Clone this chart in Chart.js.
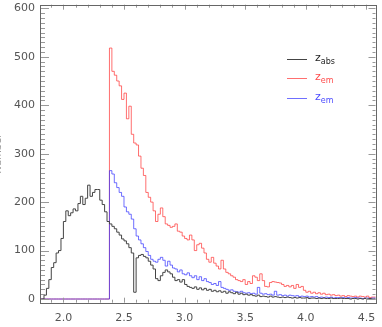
<!DOCTYPE html>
<html>
<head>
<meta charset="utf-8">
<script src="https://cdn.jsdelivr.net/npm/chart.js@4.4.1/dist/chart.umd.min.js"></script>
<style>
    html, body { margin: 0; padding: 0; background: #fff; overflow: hidden; }
    #wrap { width: 382px; height: 327px; overflow: hidden; position: relative; }
    #c { position: absolute; left: -8px; top: 0; }
</style>
</head>
<body>
<div id="wrap"><canvas id="c" width="390" height="327"></canvas></div>
<script>
// --- histogram data (bins of 0.02 in z, first bin starts at 1.80) ---
const binStart = 1.80;
const binWidth = 0.02;
const xTicks = [2.0, 2.5, 3.0, 3.5, 4.0, 4.5];
const yTicks = [0, 100, 200, 300, 400, 500, 600];

const absCounts = [
    0, 0, 0, 8, 22, 40, 65, 75, 95, 100,
    125, 160, 182, 172, 178, 186, 182, 197, 212, 195,
    208, 235, 212, 220, 226, 226, 204, 195, 180, 160,
    155, 150, 145, 138, 132, 124, 120, 114, 106, 95,
    14, 85, 90, 92, 88, 85, 78, 70, 62, 42,
    38, 48, 55, 60, 56, 52, 45, 38, 40, 35,
    40, 30, 26, 24, 22, 25, 20, 23, 19, 22,
    18, 20, 16, 18, 15, 17, 14, 16, 12, 15,
    13, 11, 14, 10, 12, 9, 10, 8, 9, 7,
    6, 8, 5, 6, 5, 4, 6, 4, 5, 4,
    3, 4, 3, 4, 3, 2, 3, 2, 3, 2,
    2, 3, 1, 2, 2, 1, 2, 1, 2, 1,
    1, 2, 1, 1, 1, 2, 1, 1, 1, 0,
    1, 1, 0, 1, 0, 1, 0, 1, 0
];

const emRedCounts = [
    0, 0, 0, 0, 0, 0, 0, 0, 0, 0,
    0, 0, 0, 0, 0, 0, 0, 0, 0, 0,
    0, 0, 0, 0, 0, 0, 0, 0, 0, 0,
    518, 470, 462, 450, 440, 412, 425, 372, 398, 340,
    322, 318, 295, 270, 255, 220, 210, 200, 182, 160,
    175, 188, 170, 155, 152, 148, 150, 155, 140, 138,
    130, 125, 122, 132, 122, 100, 112, 115, 105, 95,
    82, 76, 86, 74, 68, 62, 80, 62, 55, 52,
    48, 45, 40, 38, 36, 40, 30, 36, 32, 48,
    45, 38, 52, 38, 26, 25, 34, 36, 35, 34,
    33, 30, 26, 28, 25, 28, 22, 30, 24, 26,
    18, 14, 16, 12, 14, 11, 13, 10, 12, 9,
    10, 8, 9, 7, 8, 6, 7, 5, 7, 6,
    5, 6, 4, 6, 5, 4, 6, 3, 4
];

const emBlueCounts = [
    0, 0, 0, 0, 0, 0, 0, 0, 0, 0,
    0, 0, 0, 0, 0, 0, 0, 0, 0, 0,
    0, 0, 0, 0, 0, 0, 0, 0, 0, 0,
    265, 258, 240, 230, 220, 212, 190, 180, 175, 165,
    145, 130, 122, 114, 106, 98, 90, 82, 78, 76,
    82, 86, 80, 68, 78, 70, 64, 62, 56, 60,
    52, 50, 54, 48, 44, 48, 40, 46, 38, 42,
    36, 34, 30, 32, 28, 36, 24, 22, 20, 18,
    19, 16, 15, 14, 16, 13, 12, 13, 11, 12,
    10, 24, 12, 10, 11, 9, 10, 8, 16, 8,
    9, 7, 8, 6, 8, 7, 6, 7, 5, 6,
    5, 6, 4, 5, 4, 5, 3, 4, 3, 4,
    3, 4, 2, 3, 3, 2, 3, 2, 3, 2,
    2, 3, 2, 2, 1, 2, 2, 1, 2
];

const legendSubs = ['abs', 'em', 'em'];
const lineColors = ['#444444', 'rgba(255,50,50,0.7)', 'rgba(50,50,255,0.7)'];
const textColors = ['#222222', '#ff4a4a', '#4a4aff'];

// bin edges -> step points (last point closes the final bin)
const toSteps = (counts) => {
    const pts = counts.map((c, i) => ({ x: Math.round((binStart + i * binWidth) * 1000) / 1000, y: c }));
    pts.push({ x: Math.round((binStart + counts.length * binWidth) * 1000) / 1000, y: counts[counts.length - 1] });
    return pts;
};

// box frame with inward ticks on all four sides
const framePlugin = {
    id: 'frame',
    afterDraw(chart) {
        const { ctx, chartArea: a, scales: { x, y } } = chart;
        ctx.save();
        ctx.strokeStyle = '#999';
        ctx.lineWidth = 1;
        ctx.beginPath();
        for (let i = 19; i <= 45; i++) {
            const px = Math.round(x.getPixelForValue(i / 10)) + 0.5;
            const len = i % 5 === 0 ? 5 : 3;
            ctx.moveTo(px, a.bottom); ctx.lineTo(px, a.bottom - len);
            ctx.moveTo(px, a.top); ctx.lineTo(px, a.top + len);
        }
        for (let v = 0; v <= 600; v += 10) {
            const py = Math.round(y.getPixelForValue(v)) + 0.5;
            const major = v % 100 === 0;
            ctx.moveTo(a.left, py); ctx.lineTo(a.left + (major ? 9 : 5), py);
            ctx.moveTo(a.right, py); ctx.lineTo(a.right - (major ? 7 : 3), py);
        }
        ctx.stroke();
        ctx.strokeStyle = '#666';
        ctx.strokeRect(Math.round(a.left) + 0.5, Math.round(a.top) + 0.5,
            Math.round(a.right - a.left), Math.round(a.bottom - a.top));
        ctx.restore();
    }
};

// legend with subscripts, upper right inside the plot
const subLegendPlugin = {
    id: 'subLegend',
    afterDraw(chart) {
        const { ctx, chartArea: a } = chart;
        const rows = [54.3, 73.6, 93];
        ctx.save();
        chart.data.datasets.forEach((ds, i) => {
            const yy = Math.round(a.top + rows[i]) + 0.5;
            ctx.strokeStyle = lineColors[i];
            ctx.lineWidth = 1;
            ctx.beginPath();
            ctx.moveTo(a.right - 88.5, yy);
            ctx.lineTo(a.right - 68.5, yy);
            ctx.stroke();
            ctx.fillStyle = textColors[i];
            ctx.textBaseline = 'alphabetic';
            ctx.font = '11px "DejaVu Sans"';
            const zx = a.right - 60.5;
            ctx.fillText('z', zx, yy + 1.5);
            const w = ctx.measureText('z').width;
            ctx.font = '8px "DejaVu Sans"';
            ctx.fillText(legendSubs[i], zx + w, yy + 4);
        });
        ctx.restore();
    }
};

const ctx = document.getElementById('c').getContext('2d');
new Chart(ctx, {
    type: 'line',
    data: {
        datasets: [
            { label: 'z_abs', data: toSteps(absCounts), borderColor: lineColors[0], order: 0 },
            { label: 'z_em', data: toSteps(emRedCounts), borderColor: lineColors[1], order: 2 },
            { label: 'z_em', data: toSteps(emBlueCounts), borderColor: lineColors[2], order: 1 }
        ]
    },
    options: {
        responsive: false,
        animation: false,
        layout: { padding: { left: 0, right: 6.5, top: 4.7, bottom: 0 } },
        plugins: { legend: { display: false }, tooltip: { enabled: false } },
        elements: {
            point: { radius: 0 },
            line: { borderWidth: 1, tension: 0, stepped: 'after', fill: false }
        },
        scales: {
            x: {
                type: 'linear', min: 1.807, max: 4.575,
                grid: { display: false, drawTicks: false },
                border: { display: false },
                afterBuildTicks: s => { s.ticks = xTicks.map(v => ({ value: v })); },
                ticks: {
                    callback: v => v.toFixed(1), padding: 9, color: '#555',
                    font: { family: 'DejaVu Sans', size: 11 }, maxRotation: 0, autoSkip: false
                },
                afterFit: s => { s.height = 24.3; s.paddingLeft = 0; s.paddingRight = 0; }
            },
            y: {
                type: 'linear', min: -7.6, max: 607.5,
                grid: { display: false, drawTicks: false },
                border: { display: false },
                afterBuildTicks: s => { s.ticks = yTicks.map(v => ({ value: v })); },
                ticks: {
                    padding: 5, color: '#555',
                    font: { family: 'DejaVu Sans', size: 11 }, autoSkip: false
                },
                title: {
                    display: true, text: 'Number', color: '#999',
                    font: { family: 'DejaVu Sans', size: 10 }, padding: { top: 0, bottom: 0 }
                },
                afterFit: s => { s.width = 48; s.paddingTop = 0; s.paddingBottom = 0; }
            }
        }
    },
    plugins: [framePlugin, subLegendPlugin]
});
</script>
</body>
</html>
